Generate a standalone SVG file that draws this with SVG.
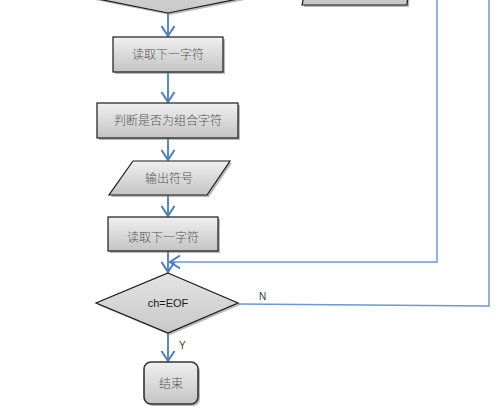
<svg xmlns="http://www.w3.org/2000/svg" width="502" height="416" viewBox="0 0 502 416">
<defs>
<linearGradient id="g" x1="0" y1="0" x2="0" y2="1">
<stop offset="0" stop-color="#f0f0f0"/>
<stop offset="1" stop-color="#c4c4c4"/>
</linearGradient>
<linearGradient id="gd" x1="0" y1="0" x2="0" y2="1">
<stop offset="0" stop-color="#e4e4e4"/>
<stop offset="1" stop-color="#c8c8c8"/>
</linearGradient>
<marker id="arr" markerWidth="16" markerHeight="16" refX="12" refY="8" orient="auto" markerUnits="userSpaceOnUse">
<path d="M2,1.5 L12,8 L2,14.5" fill="none" stroke="#4a7ebb" stroke-width="2"/>
</marker>
</defs>
<style>
.box{fill:url(#g);stroke:#1a1a1a;stroke-width:1.2}
.sh{fill:#8a8a8a;opacity:0.6}
.dia{fill:url(#gd);stroke:#1a1a1a;stroke-width:1.2}
.t{font-family:"Noto Sans CJK SC","Liberation Sans",sans-serif;font-size:12px;font-weight:300;fill:#555555;text-anchor:middle}
.s{font-family:"Liberation Sans",sans-serif;font-size:11px;fill:#1a1a1a;text-anchor:middle}
.lbl{font-family:"Liberation Sans",sans-serif;font-size:10px;fill:#3a3a3a}
.c{fill:none;stroke:#4a7ebb;stroke-width:1.8}
.c2{fill:none;stroke:#6f98cf;stroke-width:1.5}
</style>
<rect width="502" height="416" fill="#ffffff"/>
<g id="connectors">
<polyline class="c2" points="437,0 437,262 170,262" marker-end="url(#arr)"/>
<polyline class="c2" points="238,304 489,306 489,0"/>
<line class="c" x1="168" y1="13" x2="168" y2="36" marker-end="url(#arr)"/>
<line class="c" x1="168" y1="72" x2="168" y2="102" marker-end="url(#arr)"/>
<line class="c" x1="168" y1="138" x2="168" y2="160" marker-end="url(#arr)"/>
<line class="c" x1="168" y1="195" x2="168" y2="216" marker-end="url(#arr)"/>
<line class="c" x1="168" y1="251" x2="168" y2="272" marker-end="url(#arr)"/>
<line class="c" x1="168" y1="333" x2="168" y2="361" marker-end="url(#arr)"/>
<text class="lbl" x="259" y="300">N</text>
<text class="lbl" x="179" y="349">Y</text>
</g>
<g id="top-decision">
<polygon class="sh" points="40,-11 170,-37 300,-11 170,15"/>
<polygon class="dia" points="38,-13 168,-39 298,-13 168,13"/>
</g>
<g id="top-io">
<polygon class="sh" points="306,-30 411,-30 409,7 304,7"/>
<polygon class="box" points="310,-32 410,-32 407,5 302,5"/>
</g>
<g id="read1">
<rect class="sh" x="115" y="39" width="110" height="35"/>
<rect class="box" x="113" y="37" width="110" height="35"/>
<text class="t" x="168" y="59">读取下一字符</text>
</g>
<g id="judge">
<rect class="sh" x="99" y="105" width="141" height="35"/>
<rect class="box" x="97" y="103" width="141" height="35"/>
<text class="t" x="168" y="125">判断是否为组合字符</text>
</g>
<g id="output">
<polygon class="sh" points="135,163 232,163 209,197 111,197"/>
<polygon class="box" points="133,161 230,161 207,195 109,195"/>
<text class="t" x="169" y="183">输出符号</text>
</g>
<g id="read2">
<rect class="sh" x="110" y="219" width="110" height="34"/>
<rect class="box" x="108" y="217" width="110" height="34"/>
<text class="t" x="163" y="242">读取下一字符</text>
</g>
<g id="eof">
<polygon class="sh" points="170,275 240,305 170,335 98,305"/>
<polygon class="dia" points="168,273 238,303 168,333 96,303"/>
<text class="s" x="168" y="307">ch=EOF</text>
</g>
<g id="end">
<rect class="sh" x="146" y="364" width="54" height="42" rx="7"/>
<rect x="144" y="362" width="54" height="42" rx="7" fill="url(#g)" stroke="#333" stroke-width="1.6"/>
<text class="t" x="171" y="388">结束</text>
</g>
</svg>
